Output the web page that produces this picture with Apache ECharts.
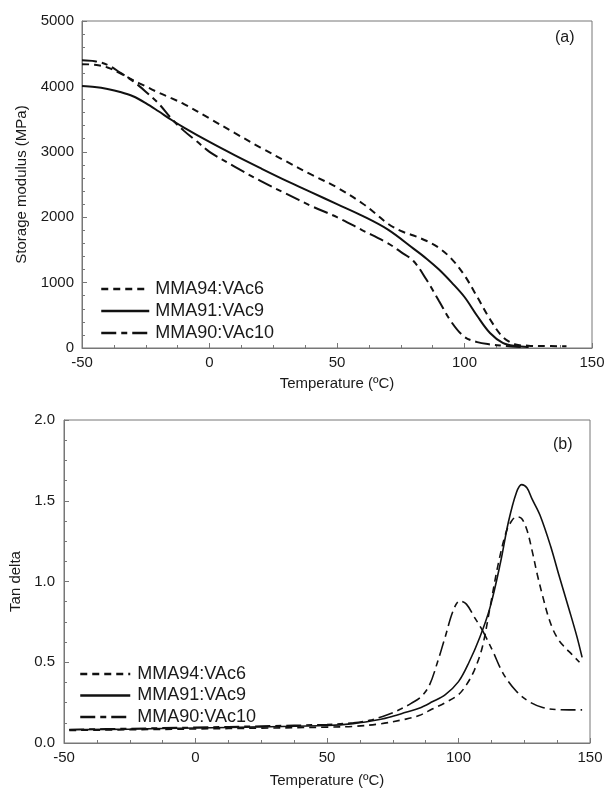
<!DOCTYPE html>
<html>
<head>
<meta charset="utf-8">
<script src="https://cdn.jsdelivr.net/npm/echarts@6/dist/echarts.min.js"></script>
<style>html,body{margin:0;padding:0;background:#fff}#c{width:608px;height:789px}</style>
</head>
<body>
<div id="c"></div>
<script>
// ---- Panel (a): storage modulus (MPa) vs temperature (°C)
var seriesNames = ['MMA94:VAc6', 'MMA91:VAc9', 'MMA90:VAc10'];
var xTicks = [-50, 0, 50, 100, 150];

var tA94 = [-50, -45, -40, -35, -30, -25, -20, -15, -10, 0, 10, 20, 30, 40, 50, 60, 65, 70, 75, 80, 85, 90, 95, 100, 105, 110, 115, 120, 125, 130, 140];
var eA94 = [4340, 4330, 4290, 4200, 4095, 4000, 3905, 3820, 3730, 3510, 3285, 3065, 2855, 2650, 2455, 2210, 2060, 1900, 1790, 1720, 1640, 1530, 1360, 1110, 780, 440, 170, 55, 35, 30, 28];

var tA91 = [-50, -45, -40, -35, -30, -25, -20, -15, -10, 0, 10, 20, 30, 40, 50, 60, 70, 80, 85, 90, 95, 100, 105, 110, 115, 120, 125];
var eA91 = [4005, 3990, 3960, 3915, 3850, 3745, 3620, 3490, 3370, 3150, 2945, 2750, 2560, 2380, 2200, 2020, 1810, 1520, 1370, 1200, 1000, 780, 490, 230, 80, 30, 15];

var tA90 = [-50, -45, -40, -35, -30, -25, -20, -15, -10, -5, 0, 10, 20, 30, 40, 50, 60, 70, 75, 80, 85, 90, 95, 100, 105, 110, 115, 120, 125];
var eA90 = [4400, 4385, 4330, 4210, 4080, 3920, 3740, 3510, 3320, 3160, 3000, 2770, 2555, 2360, 2170, 2000, 1800, 1600, 1470, 1330, 1050, 720, 390, 170, 90, 55, 35, 20, 15];

// ---- Panel (b): tan delta vs temperature (°C)
var tB94 = [-48, -25, 0, 25, 50, 60, 70, 80, 85, 90, 95, 100, 103, 106, 109, 112, 115, 118, 120, 122, 124, 126, 128, 130, 132, 134, 136, 138, 140, 143, 146];
var dB94 = [0.078, 0.082, 0.087, 0.092, 0.098, 0.103, 0.118, 0.148, 0.17, 0.21, 0.25, 0.30, 0.36, 0.45, 0.59, 0.84, 1.10, 1.30, 1.37, 1.40, 1.39, 1.32, 1.19, 1.04, 0.91, 0.79, 0.70, 0.64, 0.60, 0.55, 0.50];

var tB91 = [-48, -25, 0, 25, 50, 60, 70, 75, 80, 85, 90, 95, 100, 104, 108, 112, 116, 119, 122, 124, 126, 128, 131, 135, 138, 142, 145, 147];
var dB91 = [0.082, 0.086, 0.093, 0.10, 0.108, 0.12, 0.145, 0.165, 0.19, 0.215, 0.255, 0.30, 0.38, 0.50, 0.65, 0.84, 1.12, 1.37, 1.55, 1.60, 1.58, 1.51, 1.41, 1.22, 1.05, 0.83, 0.66, 0.53];

var tB90 = [-48, -25, 0, 25, 50, 60, 66, 73, 78, 82, 86, 89, 92, 95, 98, 100.5, 103, 106, 109, 113, 117, 122, 127, 132, 137, 142, 147];
var dB90 = [0.084, 0.09, 0.097, 0.105, 0.115, 0.125, 0.14, 0.175, 0.21, 0.245, 0.29, 0.36, 0.50, 0.66, 0.82, 0.88, 0.86, 0.78, 0.70, 0.57, 0.43, 0.32, 0.255, 0.22, 0.207, 0.205, 0.205];

function pairs(xs, ys) { return xs.map(function (x, i) { return [x, ys[i]]; }); }

var FONT = '"Liberation Sans", Arial, sans-serif';
var AX = '#777';
var TXT = '#1a1a1a';
var dashStyles = [[7, 5], null, [15, 5, 6, 5]];

function xAxisDef(gi, gap) {
  return {
    type: 'value', gridIndex: gi, min: -50, max: 150, interval: 50,
    name: 'Temperature (\u00BAC)', nameLocation: 'middle', nameGap: gap,
    nameTextStyle: { fontFamily: FONT, fontSize: 15, color: TXT },
    axisLine: { show: true, onZero: false, lineStyle: { color: AX, width: 1 } },
    axisTick: { show: true, inside: true, length: 5, lineStyle: { color: AX } },
    minorTick: { show: true, splitNumber: 4, length: 3, lineStyle: { color: AX } },
    axisLabel: { fontFamily: FONT, fontSize: 15, color: TXT, margin: 7,
      formatter: function (v) { return String(v); } },
    splitLine: { show: false }
  };
}

function mkSeries(name, data, idx, xi, width) {
  var ls = { color: '#111', width: width };
  ls.type = dashStyles[idx] ? dashStyles[idx] : 'solid';
  return {
    name: name, type: 'line', xAxisIndex: xi, yAxisIndex: xi,
    data: data, showSymbol: false, symbol: 'none', smooth: 0.35,
    lineStyle: ls, itemStyle: { color: '#111' }, emphasis: { disabled: true },
    animation: false
  };
}

var legendBase = {
  orient: 'vertical', selectedMode: false, itemHeight: 14,
  lineStyle: { width: 2.5 },
  itemStyle: { opacity: 0, borderWidth: 0 }
};

var chart = echarts.init(document.getElementById('c'), null, { renderer: 'canvas' });
chart.setOption({
  backgroundColor: '#fff',
  animation: false,
  grid: [
    { left: 82, right: 16, top: 21, height: 327, show: true, borderColor: AX, borderWidth: 1 },
    { left: 64, right: 18, top: 420, height: 325, show: true, borderColor: AX, borderWidth: 1 }
  ],
  xAxis: [xAxisDef(0, 28), xAxisDef(1, 30)],
  yAxis: [
    {
      type: 'value', gridIndex: 0, min: 0, max: 5000, interval: 1000,
      name: 'Storage modulus (MPa)', nameLocation: 'middle', nameGap: 53,
      nameTextStyle: { fontFamily: FONT, fontSize: 15, color: TXT },
      axisLine: { show: true, onZero: false, lineStyle: { color: AX, width: 1 } },
      axisTick: { show: true, inside: true, length: 5, lineStyle: { color: AX } },
      minorTick: { show: true, splitNumber: 5, length: 3, lineStyle: { color: AX } },
      axisLabel: { fontFamily: FONT, fontSize: 15, color: TXT, margin: 8,
        formatter: function (v) { return String(v); } },
      splitLine: { show: false }
    },
    {
      type: 'value', gridIndex: 1, min: 0, max: 2, interval: 0.5,
      name: 'Tan delta', nameLocation: 'middle', nameGap: 38,
      nameTextStyle: { fontFamily: FONT, fontSize: 15, color: TXT },
      axisLine: { show: true, onZero: false, lineStyle: { color: AX, width: 1 } },
      axisTick: { show: true, inside: true, length: 5, lineStyle: { color: AX } },
      minorTick: { show: true, splitNumber: 4, length: 3, lineStyle: { color: AX } },
      axisLabel: { fontFamily: FONT, fontSize: 15, color: TXT, margin: 9,
        formatter: function (v) { return v.toFixed(1); } },
      splitLine: { show: false }
    }
  ],
  legend: [
    Object.assign({}, legendBase, {
      data: seriesNames, left: 95, top: 275,
      itemWidth: 48, itemGap: 4,
      textStyle: { fontFamily: FONT, fontSize: 18, color: TXT, padding: [0, 0, 0, 1] }
    }),
    Object.assign({}, legendBase, {
      data: seriesNames, left: 74, top: 660,
      itemWidth: 50, itemGap: 3.5,
      textStyle: { fontFamily: FONT, fontSize: 18, color: TXT, padding: [0, 0, 0, 2] }
    })
  ],
  graphic: [
    { type: 'text', left: 555, top: 30, style: { text: '(a)', font: '16px ' + FONT, fill: TXT } },
    { type: 'text', left: 553, top: 437, style: { text: '(b)', font: '16px ' + FONT, fill: TXT } }
  ],
  series: [
    mkSeries(seriesNames[0], pairs(tA94, eA94), 0, 0, 2),
    mkSeries(seriesNames[1], pairs(tA91, eA91), 1, 0, 2),
    mkSeries(seriesNames[2], pairs(tA90, eA90), 2, 0, 2),
    mkSeries(seriesNames[0], pairs(tB94, dB94), 0, 1, 1.6),
    mkSeries(seriesNames[1], pairs(tB91, dB91), 1, 1, 1.6),
    mkSeries(seriesNames[2], pairs(tB90, dB90), 2, 1, 1.6)
  ]
});
</script>
</body>
</html>
